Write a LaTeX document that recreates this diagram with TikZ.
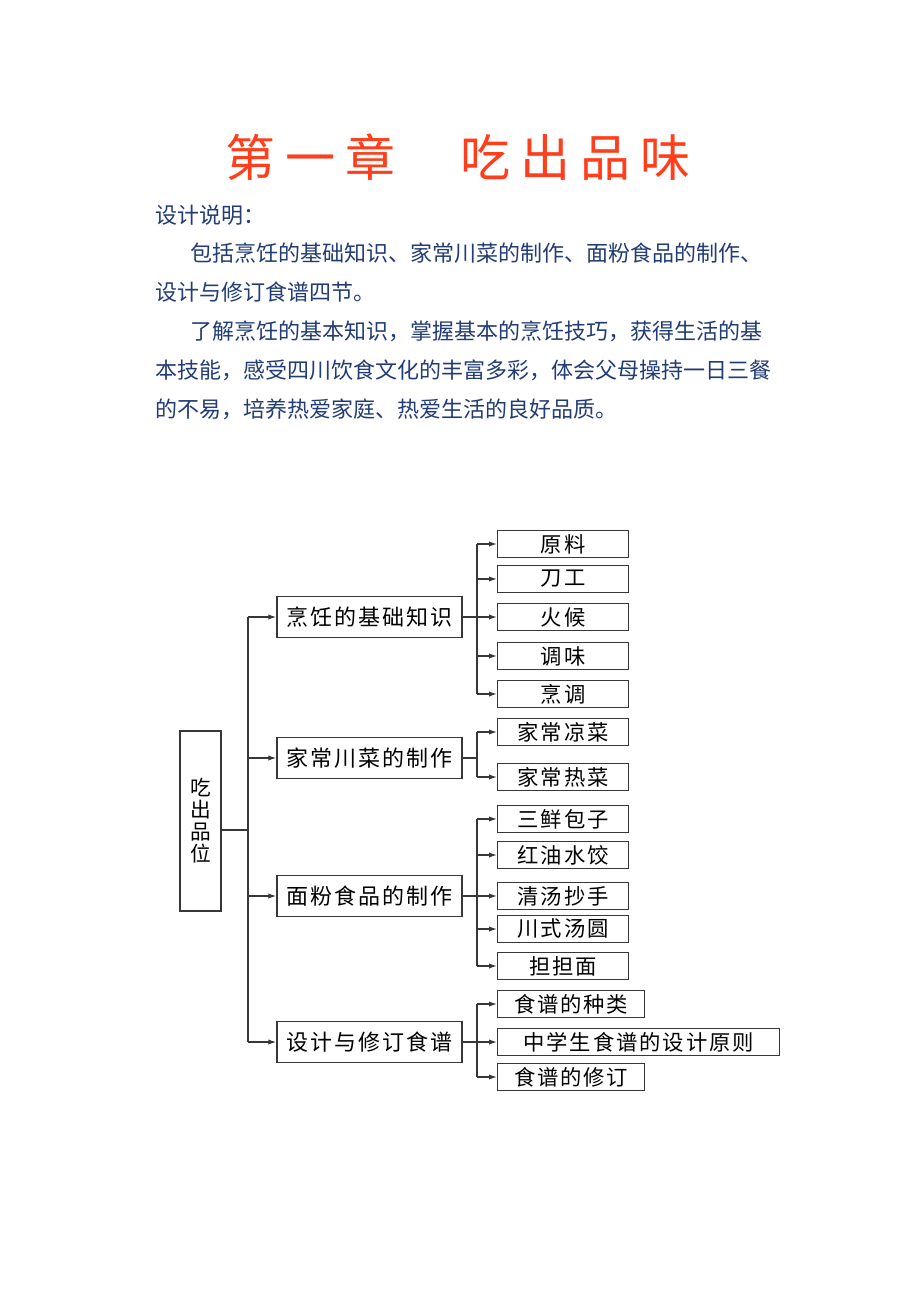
\documentclass[tikz,border=0pt]{standalone}
\usepackage{fontspec}
\setmainfont{Noto Sans CJK SC}
\usetikzlibrary{arrows.meta}
\definecolor{titlered}{RGB}{255,62,28}
\definecolor{textblue}{RGB}{34,60,118}
\definecolor{linegray}{RGB}{55,55,55}

\begin{document}
\begin{tikzpicture}[x=0.75pt,y=-0.75pt,
    rootbox/.style={draw=linegray,line width=1pt,minimum width=30.75pt,minimum height=135pt,inner sep=0pt,align=center,font=\fontsize{15.5}{16.5}\selectfont},
    topicbox/.style={draw=linegray,line width=1pt,minimum width=138.75pt,minimum height=30.75pt,inner sep=0pt,font=\fontsize{16.5}{20}\selectfont\addfontfeature{LetterSpace=9}},
    leafbox/.style={draw=linegray,line width=1pt,minimum width=98.25pt,minimum height=20.25pt,inner sep=0pt,anchor=west,font=\fontsize{16}{20}\selectfont\addfontfeature{LetterSpace=9}},
    bodyline/.style={anchor=west,inner sep=0pt,text=textblue,font=\fontsize{16.5}{20}\selectfont},
    conn/.style={draw=linegray,line width=1pt},
    tip/.style={-{Latex[length=6pt,width=4pt]}}]

    \newcommand*{\gapsmall}{\hspace{7.5pt}}%
    \newcommand*{\gapbig}{\hspace{48.75pt}}%

    \useasboundingbox (0,0) rectangle (920,1302);
    \fill[white] (0,0) rectangle (920,1302);

    % title ↓
    \node[text=titlered,font=\fontsize{37.5}{40}\selectfont,inner sep=0pt] (title) at (457.5,157)
        {第\gapsmall 一\gapsmall 章\gapbig 吃\gapsmall 出\gapsmall 品\gapsmall 味};

    % description ↓
    \node[bodyline] (d1) at (155,215) {设计说明：};
    \node[bodyline] (d2) at (190,253) {包括烹饪的基础知识、家常川菜的制作、面粉食品的制作、};
    \node[bodyline] (d3) at (155,292) {设计与修订食谱四节。};
    \node[bodyline] (d4) at (190,331) {了解烹饪的基本知识，掌握基本的烹饪技巧，获得生活的基};
    \node[bodyline] (d5) at (155,370) {本技能，感受四川饮食文化的丰富多彩，体会父母操持一日三餐};
    \node[bodyline] (d6) at (155,409) {的不易，培养热爱家庭、热爱生活的良好品质。};

    % tree ↓
    \node[rootbox] (root) at (200.5,821) {吃\\出\\品\\位};

    \node[topicbox] (b1) at (369.5,617) {烹饪的基础知识};
    \node[topicbox] (b2) at (369.5,758) {家常川菜的制作};
    \node[topicbox] (b3) at (369.5,896) {面粉食品的制作};
    \node[topicbox] (b4) at (369.5,1042) {设计与修订食谱};

    \foreach \n/\y/\t in {c11/544/原料, c12/579/刀工, c13/617/火候, c14/656/调味, c15/694/烹调,
                          c21/732/家常凉菜, c22/777/家常热菜,
                          c31/819/三鲜包子, c32/855/红油水饺, c33/896/清汤抄手, c34/929/川式汤圆, c35/966/担担面}
        \node[leafbox] (\n) at (497,\y) {\t};
    \node[leafbox,minimum width=110.25pt] (c41) at (497,1004) {食谱的种类};
    \node[leafbox,minimum width=211.5pt] (c42) at (497,1042) {中学生食谱的设计原则};
    \node[leafbox,minimum width=110.25pt] (c43) at (497,1077) {食谱的修订};

    \coordinate (tk) at (248,830);
    \coordinate (br) at (477,0);

    % trunk ↓
    \draw[conn] (root.east |- tk) -- (tk);
    \draw[conn] (tk |- b1.west) -- (tk |- b4.west);
    \foreach \p in {b1,b2,b3,b4}
        \draw[conn,tip] (tk |- \p.west) -- (\p.west);

    % branches ↓
    \foreach \p/\a/\b in {b1/c11/c15, b2/c21/c22, b3/c31/c35, b4/c41/c43}
        \draw[conn] (\p.east) -- (\p.east -| br) (br |- \a.west) -- (br |- \b.west);
    \foreach \c in {c11,c12,c13,c14,c15,c21,c22,c31,c32,c33,c34,c35,c41,c42,c43}
        \draw[conn,tip] (br |- \c.west) -- (\c.west);

\end{tikzpicture}
\end{document}
